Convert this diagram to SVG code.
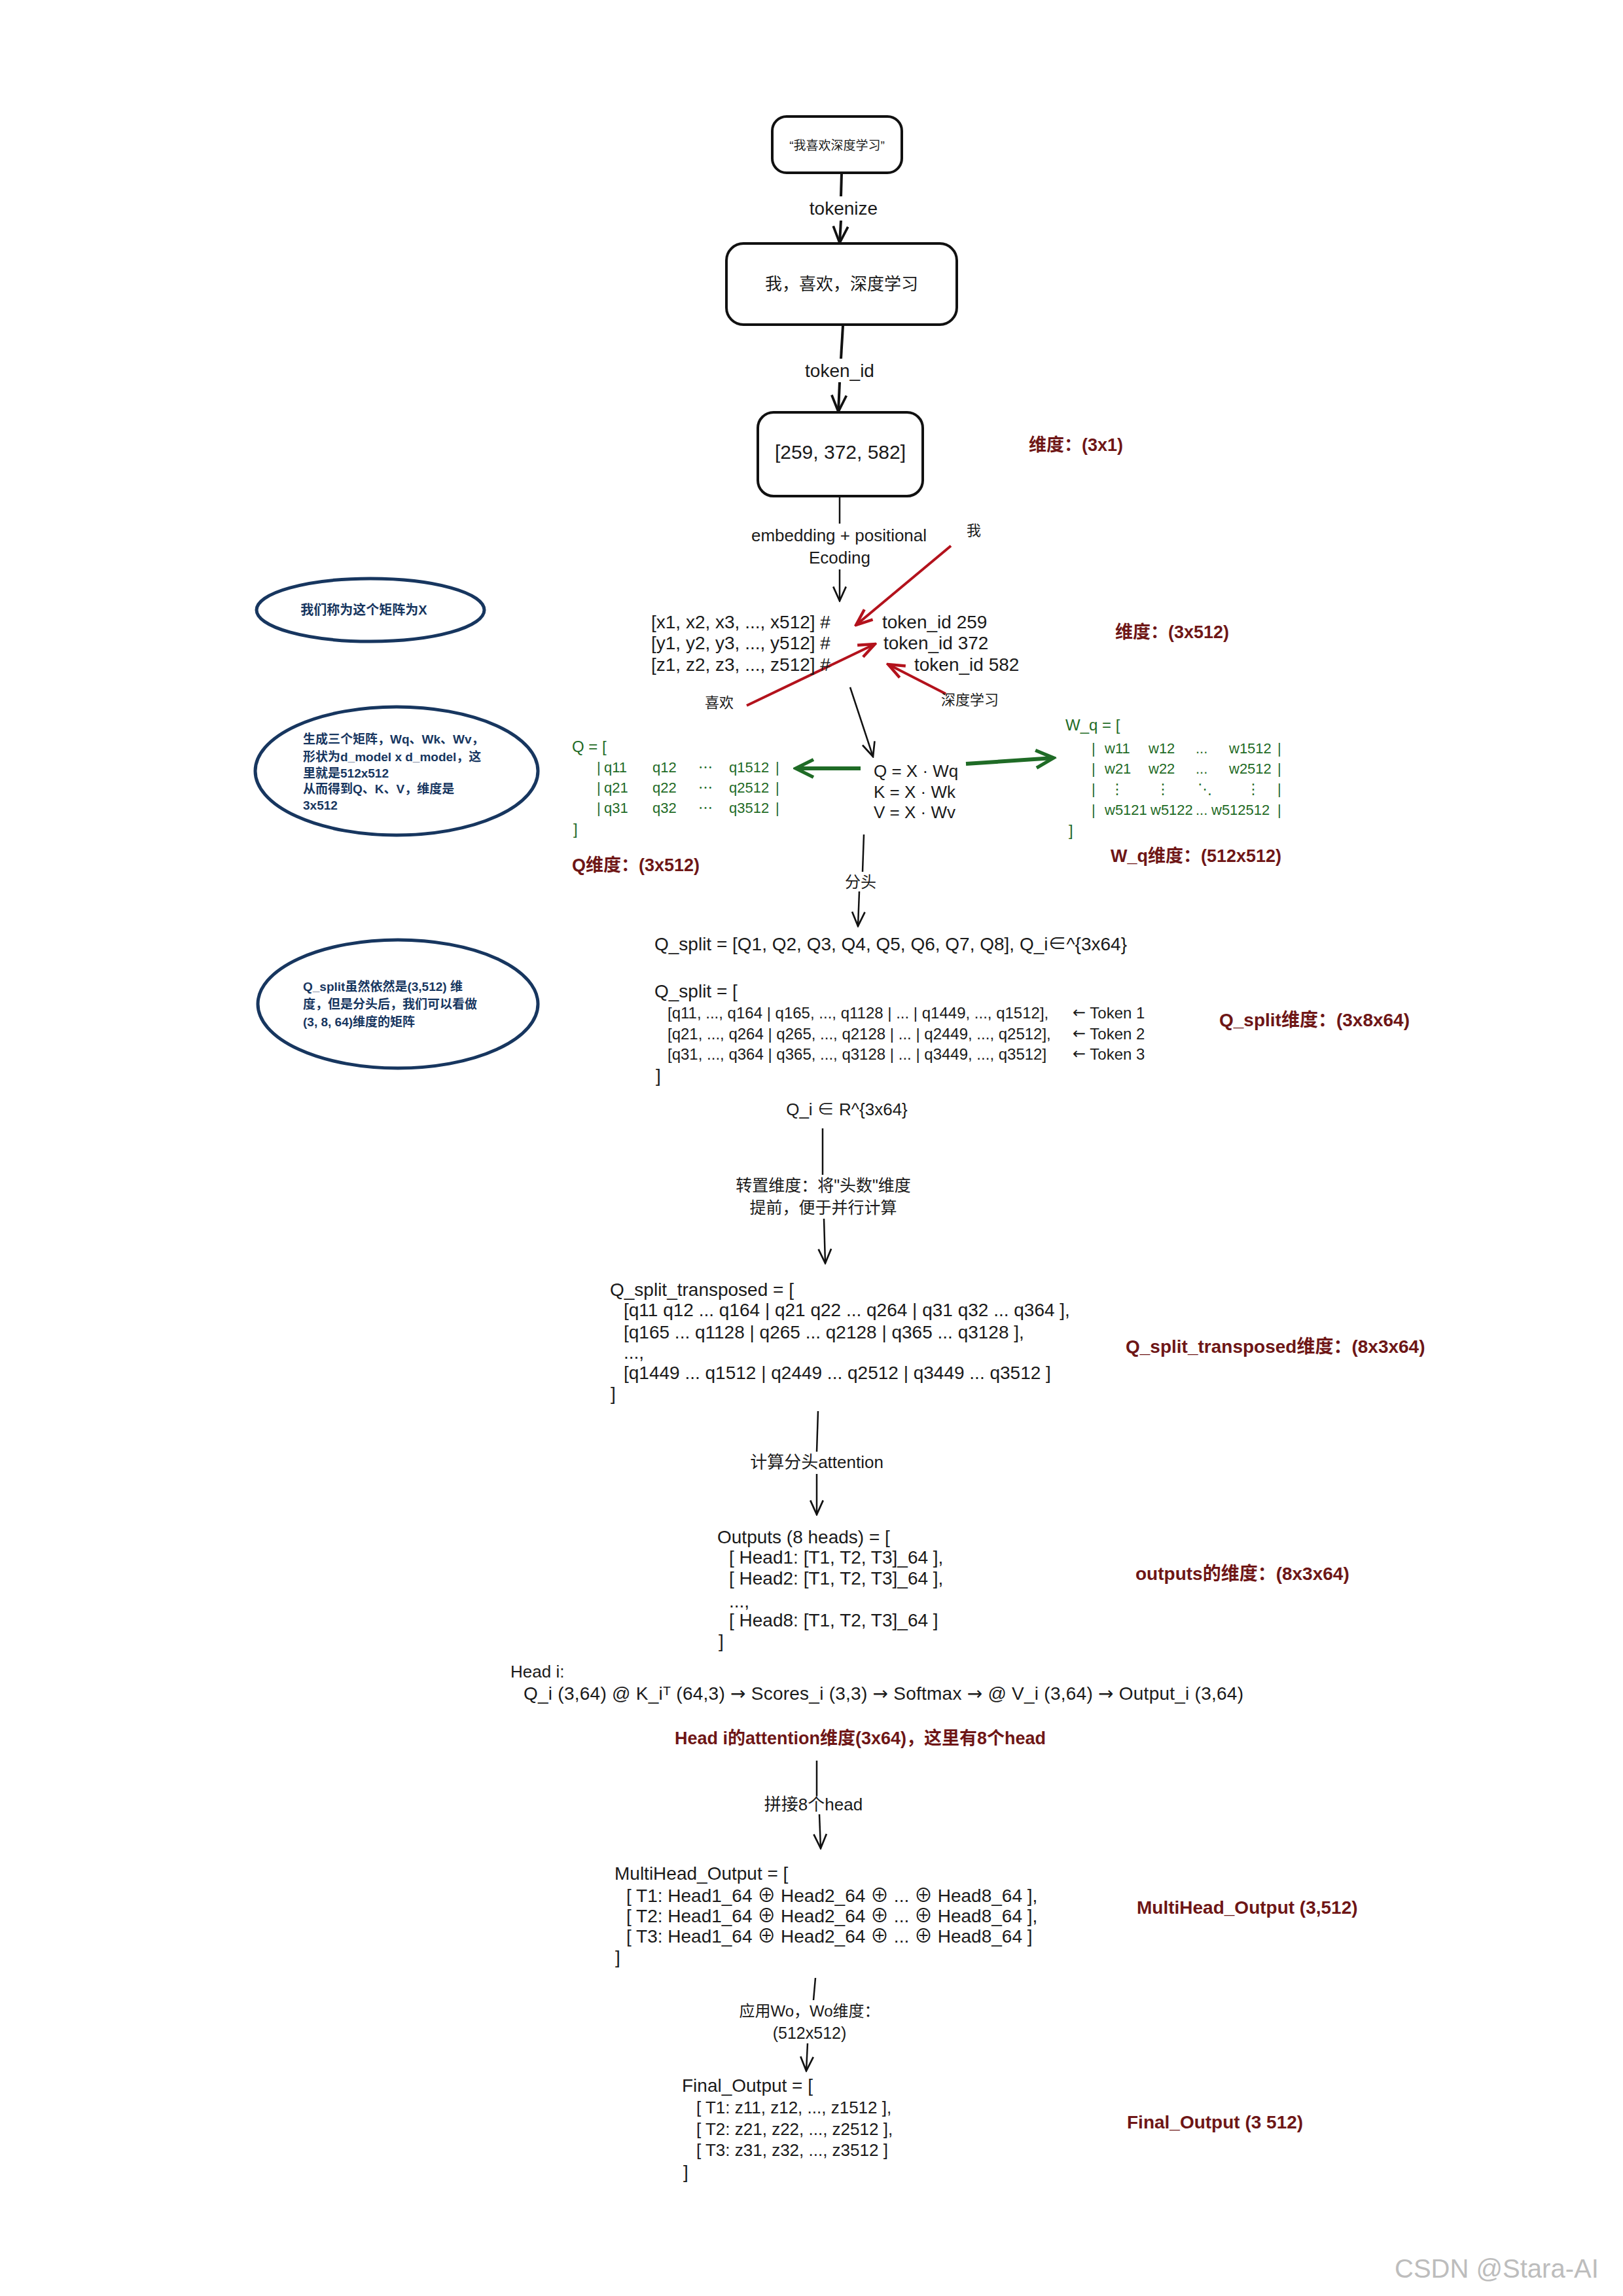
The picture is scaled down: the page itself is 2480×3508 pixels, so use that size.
<svg xmlns="http://www.w3.org/2000/svg" width="2480" height="3508" viewBox="0 0 2480 3508">
<defs>
<style>
text{font-family:"Liberation Sans","Noto Sans CJK SC","DejaVu Sans",sans-serif;dominant-baseline:central;fill:#1a1a1a}
.b{font-size:28px}
.lab{font-size:26px}
.mid{text-anchor:middle}
.dr{font-size:27px;fill:#6e1616;font-weight:bold}
.g{font-size:22px;fill:#1f6b26}
.gh{font-size:24px;fill:#1f6b26}
.n{font-size:19px;fill:#17365f;font-weight:bold}
.ar{font-family:"DejaVu Sans",sans-serif}
.box{fill:#fff;stroke:#111;stroke-width:4}
.ell{fill:#fff;stroke:#17365f;stroke-width:5}
.ln{stroke:#111;stroke-width:2.5;fill:none}
.lnk{stroke:#111;stroke-width:4;fill:none}
.red{stroke:#b3121c;stroke-width:4;fill:none}
.grn{stroke:#1f6b26;stroke-width:6;fill:none}
.wm{font-size:40px;fill:#bdbdbd}
</style>
<marker id="ah" viewBox="0 0 24 24" markerWidth="26" markerHeight="26" refX="22" refY="12" orient="auto" markerUnits="userSpaceOnUse">
<path d="M2,3 L22,12 L2,21" fill="none" stroke="#111" stroke-width="2.5"/>
</marker>
<marker id="ahk" viewBox="0 0 24 24" markerWidth="30" markerHeight="30" refX="22" refY="12" orient="auto" markerUnits="userSpaceOnUse">
<path d="M2,3 L22,12 L2,21" fill="none" stroke="#111" stroke-width="3"/>
</marker>
<marker id="ahr" viewBox="0 0 24 24" markerWidth="30" markerHeight="30" refX="22" refY="12" orient="auto" markerUnits="userSpaceOnUse">
<path d="M2,4 L22,12 L2,20" fill="none" stroke="#b3121c" stroke-width="3.5"/>
</marker>
<marker id="ahg" viewBox="0 0 24 24" markerWidth="36" markerHeight="36" refX="21" refY="12" orient="auto" markerUnits="userSpaceOnUse">
<path d="M3,3 L21,12 L3,21" fill="none" stroke="#1f6b26" stroke-width="3.5"/>
</marker>
</defs>
<rect width="2480" height="3508" fill="#fff"/>

<g id="connectors">
<line class="lnk" x1="1286" y1="265" x2="1285" y2="300"/>
<line class="lnk" x1="1285" y1="337" x2="1283" y2="371" marker-end="url(#ahk)"/>
<line class="lnk" x1="1288" y1="498" x2="1285" y2="548"/>
<line class="lnk" x1="1283" y1="584" x2="1281" y2="629" marker-end="url(#ahk)"/>
<line class="ln" x1="1283" y1="760" x2="1283" y2="800"/>
<line class="ln" x1="1283" y1="870" x2="1283" y2="918" marker-end="url(#ah)"/>
<line class="ln" x1="1299" y1="1050" x2="1334" y2="1156" marker-end="url(#ah)"/>
<line class="ln" x1="1320" y1="1275" x2="1318" y2="1332"/>
<line class="ln" x1="1313" y1="1362" x2="1311" y2="1415" marker-end="url(#ah)"/>
<line class="ln" x1="1257" y1="1724" x2="1257" y2="1795"/>
<line class="ln" x1="1259" y1="1862" x2="1261" y2="1930" marker-end="url(#ah)"/>
<line class="ln" x1="1250" y1="2156" x2="1248" y2="2218"/>
<line class="ln" x1="1248" y1="2252" x2="1248" y2="2314" marker-end="url(#ah)"/>
<line class="ln" x1="1248" y1="2690" x2="1248" y2="2744"/>
<line class="ln" x1="1252" y1="2772" x2="1254" y2="2824" marker-end="url(#ah)"/>
<line class="ln" x1="1246" y1="3022" x2="1243" y2="3056"/>
<line class="ln" x1="1234" y1="3122" x2="1232" y2="3164" marker-end="url(#ah)"/>
<line class="red" x1="1453" y1="834" x2="1308" y2="955" marker-end="url(#ahr)"/>
<line class="red" x1="1141" y1="1078" x2="1337" y2="984" marker-end="url(#ahr)"/>
<line class="red" x1="1445" y1="1060" x2="1357" y2="1015" marker-end="url(#ahr)"/>
<line class="grn" x1="1315" y1="1174" x2="1216" y2="1174" marker-end="url(#ahg)"/>
<line class="grn" x1="1476" y1="1167" x2="1610" y2="1158" marker-end="url(#ahg)"/>
</g>

<g id="connector-labels">
<text class="b mid" x="1289" y="318">tokenize</text>
<text class="b mid" x="1283" y="566">token_id</text>
<text class="lab mid" x="1282" y="818">embedding + positional</text>
<text class="lab mid" x="1283" y="852">Ecoding</text>
<text class="lab mid" x="1315" y="1347" style="font-size:24px">分头</text>
<text class="lab mid" x="1258" y="1811" style="font-size:25px">转置维度：将"头数"维度</text>
<text class="lab mid" x="1258" y="1845" style="font-size:25px">提前，便于并行计算</text>
<text class="lab mid" x="1248" y="2234">计算分头attention</text>
<text class="lab mid" x="1243" y="2757">拼接8个head</text>
<text class="lab mid" x="1237" y="3072" style="font-size:24px">应用Wo，Wo维度：</text>
<text class="lab mid" x="1237" y="3106" style="font-size:25px">(512x512)</text>
<text class="lab mid" x="1488" y="810" style="font-size:22px">我</text>
<text class="lab mid" x="1099" y="1073" style="font-size:22px">喜欢</text>
<text class="lab mid" x="1482" y="1069" style="font-size:22px">深度学习</text>
</g>

<g id="node-input">
<rect class="box" x="1180" y="178" width="198" height="86" rx="22"/>
<text class="mid" x="1279" y="222" style="font-size:19px">“我喜欢深度学习”</text>
</g>
<g id="node-tokens">
<rect class="box" x="1110" y="372" width="352" height="124" rx="26"/>
<text class="mid" x="1286" y="434" style="font-size:26px">我，喜欢，深度学习</text>
</g>
<g id="node-ids">
<rect class="box" x="1158" y="630" width="252" height="128" rx="24"/>
<text class="mid" x="1284" y="690" style="font-size:30px">[259, 372, 582]</text>
</g>
<g id="dim-ids"><text class="dr" x="1572" y="680">维度：(3x1)</text></g>

<g id="note-x">
<ellipse class="ell" cx="566" cy="932" rx="174" ry="48"/>
<text class="n mid" x="556" y="932" style="font-size:20px">我们称为这个矩阵为X</text>
</g>
<g id="note-qkv">
<ellipse class="ell" cx="606" cy="1178" rx="216" ry="98"/>
<text class="n" x="463" y="1129">生成三个矩阵，Wq、Wk、Wv，</text>
<text class="n" x="463" y="1156">形状为d_model x d_model，这</text>
<text class="n" x="463" y="1181">里就是512x512</text>
<text class="n" x="463" y="1205">从而得到Q、K、V，维度是</text>
<text class="n" x="463" y="1230">3x512</text>
</g>
<g id="note-split">
<ellipse class="ell" cx="608" cy="1534" rx="214" ry="98"/>
<text class="n" x="463" y="1507">Q_split虽然依然是(3,512) 维</text>
<text class="n" x="463" y="1534">度，但是分头后，我们可以看做</text>
<text class="n" x="463" y="1561">(3, 8, 64)维度的矩阵</text>
</g>

<g id="node-x">
<text class="b" x="995" y="950">[x1, x2, x3, ..., x512] #</text>
<text class="b" x="995" y="982">[y1, y2, y3, ..., y512] #</text>
<text class="b" x="995" y="1015">[z1, z2, z3, ..., z512] #</text>
<text class="b" x="1348" y="950">token_id 259</text>
<text class="b" x="1350" y="982">token_id 372</text>
<text class="b" x="1397" y="1015">token_id 582</text>
</g>
<g id="dim-x"><text class="dr" x="1704" y="966">维度：(3x512)</text></g>

<g id="node-qkv">
<text class="lab" x="1335" y="1178">Q = X · Wq</text>
<text class="lab" x="1335" y="1210">K = X · Wk</text>
<text class="lab" x="1335" y="1241">V = X · Wv</text>
</g>

<g id="node-q">
<text class="gh" x="874" y="1140">Q = [</text>
<text class="g" x="912" y="1172">|</text><text class="g" x="923" y="1172">q11</text><text class="g" x="997" y="1172">q12</text><text class="g" x="1067" y="1172">⋯</text><text class="g" x="1114" y="1172">q1512</text><text class="g" x="1185" y="1172">|</text>
<text class="g" x="912" y="1203">|</text><text class="g" x="923" y="1203">q21</text><text class="g" x="997" y="1203">q22</text><text class="g" x="1067" y="1203">⋯</text><text class="g" x="1114" y="1203">q2512</text><text class="g" x="1185" y="1203">|</text>
<text class="g" x="912" y="1234">|</text><text class="g" x="923" y="1234">q31</text><text class="g" x="997" y="1234">q32</text><text class="g" x="1067" y="1234">⋯</text><text class="g" x="1114" y="1234">q3512</text><text class="g" x="1185" y="1234">|</text>
<text class="gh" x="876" y="1266">]</text>
</g>
<g id="dim-q"><text class="dr" x="874" y="1322">Q维度：(3x512)</text></g>

<g id="node-wq">
<text class="gh" x="1628" y="1107">W_q = [</text>
<text class="g" x="1668" y="1143">|</text><text class="g" x="1688" y="1143">w11</text><text class="g" x="1755" y="1143">w12</text><text class="g" x="1827" y="1143">...</text><text class="g" x="1878" y="1143">w1512</text><text class="g" x="1952" y="1143">|</text>
<text class="g" x="1668" y="1174">|</text><text class="g" x="1688" y="1174">w21</text><text class="g" x="1755" y="1174">w22</text><text class="g" x="1827" y="1174">...</text><text class="g" x="1878" y="1174">w2512</text><text class="g" x="1952" y="1174">|</text>
<text class="g" x="1668" y="1205">|</text><text class="g" x="1696" y="1205">⋮</text><text class="g" x="1766" y="1205">⋮</text><text class="g" x="1830" y="1205">⋱</text><text class="g" x="1904" y="1205">⋮</text><text class="g" x="1952" y="1205">|</text>
<text class="g" x="1668" y="1237">|</text><text class="g" x="1688" y="1237">w5121</text><text class="g" x="1758" y="1237">w5122</text><text class="g" x="1827" y="1237">...</text><text class="g" x="1851" y="1237">w512512</text><text class="g" x="1952" y="1237">|</text>
<text class="gh" x="1633" y="1268">]</text>
</g>
<g id="dim-wq"><text class="dr" x="1697" y="1308">W_q维度：(512x512)</text></g>

<g id="node-qsplit">
<text class="b" x="1000" y="1442">Q_split = [Q1, Q2, Q3, Q4, Q5, Q6, Q7, Q8],  Q_i∈^{3x64}</text>
<text class="b" x="1000" y="1514">Q_split = [</text>
<text class="b" x="1020" y="1547" style="font-size:24px">[q11, ..., q164 | q165, ..., q1128 | ... | q1449, ..., q1512],</text>
<text class="b" x="1020" y="1579" style="font-size:24px">[q21, ..., q264 | q265, ..., q2128 | ... | q2449, ..., q2512],</text>
<text class="b" x="1020" y="1610" style="font-size:24px">[q31, ..., q364 | q365, ..., q3128 | ... | q3449, ..., q3512]</text>
<text class="b" x="1639" y="1547" style="font-size:24px"><tspan class="ar">←</tspan> Token 1</text>
<text class="b" x="1639" y="1579" style="font-size:24px"><tspan class="ar">←</tspan> Token 2</text>
<text class="b" x="1639" y="1610" style="font-size:24px"><tspan class="ar">←</tspan> Token 3</text>
<text class="b" x="1002" y="1643">]</text>
<text class="b mid" x="1294" y="1695" style="font-size:26px">Q_i ∈ R^{3x64}</text>
</g>
<g id="dim-qsplit"><text class="dr" x="1863" y="1558" style="font-size:28px">Q_split维度：(3x8x64)</text></g>

<g id="node-qt">
<text class="b" x="932" y="1970">Q_split_transposed = [</text>
<text class="b" x="953" y="2001">[q11 q12 ... q164 | q21 q22 ... q264 | q31 q32 ... q364 ],</text>
<text class="b" x="953" y="2035">[q165 ... q1128 | q265 ... q2128 | q365 ... q3128 ],</text>
<text class="b" x="953" y="2066">...,</text>
<text class="b" x="953" y="2097">[q1449 ... q1512 | q2449 ... q2512 | q3449 ... q3512 ]</text>
<text class="b" x="933" y="2129">]</text>
</g>
<g id="dim-qt"><text class="dr" x="1720" y="2057" style="font-size:28px">Q_split_transposed维度：(8x3x64)</text></g>

<g id="node-outputs">
<text class="b" x="1096" y="2348">Outputs (8 heads) = [</text>
<text class="b" x="1114" y="2379">[ Head1: [T1, T2, T3]_64 ],</text>
<text class="b" x="1114" y="2411">[ Head2: [T1, T2, T3]_64 ],</text>
<text class="b" x="1114" y="2446">...,</text>
<text class="b" x="1114" y="2475">[ Head8: [T1, T2, T3]_64 ]</text>
<text class="b" x="1098" y="2507">]</text>
</g>
<g id="dim-outputs"><text class="dr" x="1735" y="2404" style="font-size:28px">outputs的维度：(8x3x64)</text></g>

<g id="node-headi">
<text class="b" x="780" y="2554" style="font-size:26px">Head i:</text>
<text class="b" x="800" y="2587" style="font-size:28px" textLength="1100" lengthAdjust="spacing">Q_i (3,64) @ K_iᵀ (64,3) <tspan class="ar">→</tspan> Scores_i (3,3) <tspan class="ar">→</tspan> Softmax <tspan class="ar">→</tspan> @ V_i (3,64) <tspan class="ar">→</tspan> Output_i (3,64)</text>
</g>
<g id="dim-headi"><text class="dr" x="1031" y="2656" style="font-size:27px">Head i的attention维度(3x64)，这里有8个head</text></g>

<g id="node-multihead">
<text class="b" x="939" y="2862">MultiHead_Output = [</text>
<text class="b" x="957" y="2896">[ T1: Head1_64 ⊕ Head2_64 ⊕ ... ⊕ Head8_64 ],</text>
<text class="b" x="957" y="2927">[ T2: Head1_64 ⊕ Head2_64 ⊕ ... ⊕ Head8_64 ],</text>
<text class="b" x="957" y="2958">[ T3: Head1_64 ⊕ Head2_64 ⊕ ... ⊕ Head8_64 ]</text>
<text class="b" x="940" y="2990">]</text>
</g>
<g id="dim-multihead"><text class="dr" x="1737" y="2914" style="font-size:28px">MultiHead_Output (3,512)</text></g>

<g id="node-final">
<text class="b" x="1042" y="3186">Final_Output = [</text>
<text class="b" x="1064" y="3220" style="font-size:26px">[ T1: z11, z12, ..., z1512 ],</text>
<text class="b" x="1064" y="3253" style="font-size:26px">[ T2: z21, z22, ..., z2512 ],</text>
<text class="b" x="1064" y="3285" style="font-size:26px">[ T3: z31, z32, ..., z3512 ]</text>
<text class="b" x="1044" y="3318">]</text>
</g>
<g id="dim-final"><text class="dr" x="1722" y="3242" style="font-size:28px">Final_Output (3 512)</text></g>

<text class="wm" x="2131" y="3466">CSDN @Stara-AI</text>
</svg>
